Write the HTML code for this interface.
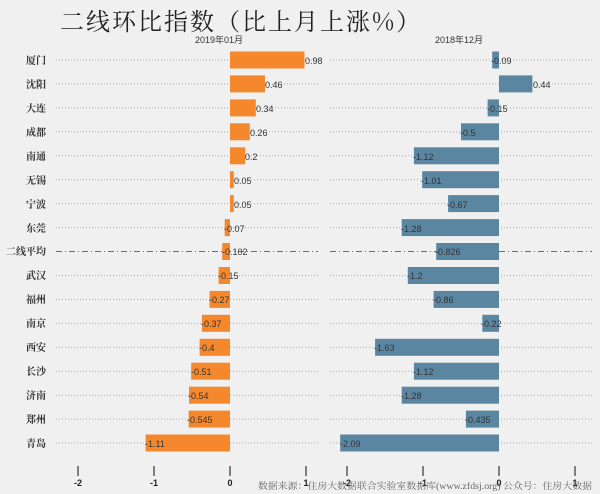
<!DOCTYPE html><html><head><meta charset="utf-8"><style>body{margin:0;background:#f0f0f0}svg{display:block}</style></head><body>
<svg width="600" height="494" xmlns="http://www.w3.org/2000/svg" font-family="Liberation Sans, sans-serif">
<rect width="600" height="494" fill="#f0f0f0"/>
<text x="60" y="30" font-family="Noto Serif CJK SC, serif" font-size="24" letter-spacing="2" fill="#222">二线环比指数（比上月上涨%）</text>
<text x="195" y="43" font-size="9" fill="#333" font-family="Liberation Sans, Noto Sans CJK SC, sans-serif">2019年01月</text>
<text x="435" y="43" font-size="9" fill="#333" font-family="Liberation Sans, Noto Sans CJK SC, sans-serif">2018年12月</text>
<g stroke="#aaa" stroke-width="1" stroke-dasharray="1,2">
<line x1="56" x2="318" y1="60" y2="60"/><line x1="330" x2="592" y1="60" y2="60"/>
<line x1="56" x2="318" y1="83.9" y2="83.9"/><line x1="330" x2="592" y1="83.9" y2="83.9"/>
<line x1="56" x2="318" y1="107.9" y2="107.9"/><line x1="330" x2="592" y1="107.9" y2="107.9"/>
<line x1="56" x2="318" y1="131.8" y2="131.8"/><line x1="330" x2="592" y1="131.8" y2="131.8"/>
<line x1="56" x2="318" y1="155.8" y2="155.8"/><line x1="330" x2="592" y1="155.8" y2="155.8"/>
<line x1="56" x2="318" y1="179.7" y2="179.7"/><line x1="330" x2="592" y1="179.7" y2="179.7"/>
<line x1="56" x2="318" y1="203.6" y2="203.6"/><line x1="330" x2="592" y1="203.6" y2="203.6"/>
<line x1="56" x2="318" y1="227.6" y2="227.6"/><line x1="330" x2="592" y1="227.6" y2="227.6"/>
<line x1="56" x2="318" y1="275.5" y2="275.5"/><line x1="330" x2="592" y1="275.5" y2="275.5"/>
<line x1="56" x2="318" y1="299.4" y2="299.4"/><line x1="330" x2="592" y1="299.4" y2="299.4"/>
<line x1="56" x2="318" y1="323.3" y2="323.3"/><line x1="330" x2="592" y1="323.3" y2="323.3"/>
<line x1="56" x2="318" y1="347.3" y2="347.3"/><line x1="330" x2="592" y1="347.3" y2="347.3"/>
<line x1="56" x2="318" y1="371.2" y2="371.2"/><line x1="330" x2="592" y1="371.2" y2="371.2"/>
<line x1="56" x2="318" y1="395.2" y2="395.2"/><line x1="330" x2="592" y1="395.2" y2="395.2"/>
<line x1="56" x2="318" y1="419.1" y2="419.1"/><line x1="330" x2="592" y1="419.1" y2="419.1"/>
<line x1="56" x2="318" y1="443" y2="443"/><line x1="330" x2="592" y1="443" y2="443"/>
</g>
<g stroke="#b05050" stroke-width="1" stroke-dasharray="6,3,1,3"><line x1="56" x2="318" y1="251.5" y2="251.5"/><line x1="330" x2="592" y1="251.5" y2="251.5"/></g>
<g fill="#f5882c">
<rect x="230" y="51.5" width="74.5" height="17"/>
<rect x="230" y="75.4" width="35" height="17"/>
<rect x="230" y="99.4" width="25.8" height="17"/>
<rect x="230" y="123.3" width="19.8" height="17"/>
<rect x="230" y="147.3" width="15.2" height="17"/>
<rect x="230" y="171.2" width="3.8" height="17"/>
<rect x="230" y="195.1" width="3.8" height="17"/>
<rect x="224.7" y="219.1" width="5.3" height="17"/>
<rect x="222.2" y="243" width="7.8" height="17"/>
<rect x="218.6" y="267" width="11.4" height="17"/>
<rect x="209.5" y="290.9" width="20.5" height="17"/>
<rect x="201.9" y="314.8" width="28.1" height="17"/>
<rect x="199.6" y="338.8" width="30.4" height="17"/>
<rect x="191.2" y="362.7" width="38.8" height="17"/>
<rect x="189" y="386.7" width="41" height="17"/>
<rect x="188.6" y="410.6" width="41.4" height="17"/>
<rect x="145.6" y="434.5" width="84.4" height="17"/>
</g>
<g fill="#5a86a2">
<rect x="492.2" y="51.5" width="6.8" height="17"/>
<rect x="499" y="75.4" width="33.4" height="17"/>
<rect x="487.6" y="99.4" width="11.4" height="17"/>
<rect x="461" y="123.3" width="38" height="17"/>
<rect x="413.9" y="147.3" width="85.1" height="17"/>
<rect x="422.2" y="171.2" width="76.8" height="17"/>
<rect x="448.1" y="195.1" width="50.9" height="17"/>
<rect x="401.7" y="219.1" width="97.3" height="17"/>
<rect x="436.2" y="243" width="62.8" height="17"/>
<rect x="407.8" y="267" width="91.2" height="17"/>
<rect x="433.6" y="290.9" width="65.4" height="17"/>
<rect x="482.3" y="314.8" width="16.7" height="17"/>
<rect x="375.1" y="338.8" width="123.9" height="17"/>
<rect x="413.9" y="362.7" width="85.1" height="17"/>
<rect x="401.7" y="386.7" width="97.3" height="17"/>
<rect x="465.9" y="410.6" width="33.1" height="17"/>
<rect x="340.2" y="434.5" width="158.8" height="17"/>
</g>
<g font-size="9" fill="#333">
<text x="305" y="64">0.98</text><text x="265" y="88">0.46</text><text x="256" y="112">0.34</text><text x="250" y="136">0.26</text><text x="245" y="160">0.2</text><text x="234" y="184">0.05</text><text x="234" y="208">0.05</text><text x="224" y="232">-0.07</text><text x="222" y="255">-0.102</text><text x="218" y="279">-0.15</text><text x="209" y="303">-0.27</text><text x="201" y="327">-0.37</text><text x="199" y="351">-0.4</text><text x="191" y="375">-0.51</text><text x="188" y="399">-0.54</text><text x="187" y="423">-0.545</text><text x="145" y="447">-1.11</text>
<text x="491" y="64">-0.09</text><text x="533" y="88">0.44</text><text x="487" y="112">-0.15</text><text x="460" y="136">-0.5</text><text x="413" y="160">-1.12</text><text x="421" y="184">-1.01</text><text x="447" y="208">-0.67</text><text x="401" y="232">-1.28</text><text x="435" y="255">-0.826</text><text x="407" y="279">-1.2</text><text x="433" y="303">-0.86</text><text x="481" y="327">-0.22</text><text x="374" y="351">-1.63</text><text x="413" y="375">-1.12</text><text x="401" y="399">-1.28</text><text x="465" y="423">-0.435</text><text x="340" y="447">-2.09</text>
</g>
<g font-size="10" fill="#333" font-family="Liberation Serif, Noto Serif CJK SC, serif" font-weight="bold" text-anchor="end">
<text x="46" y="64">厦门</text><text x="46" y="88">沈阳</text><text x="46" y="112">大连</text><text x="46" y="136">成都</text><text x="46" y="160">南通</text><text x="46" y="184">无锡</text><text x="46" y="208">宁波</text><text x="46" y="232">东莞</text><text x="46" y="255">二线平均</text><text x="46" y="279">武汉</text><text x="46" y="303">福州</text><text x="46" y="327">南京</text><text x="46" y="351">西安</text><text x="46" y="375">长沙</text><text x="46" y="399">济南</text><text x="46" y="423">郑州</text><text x="46" y="447">青岛</text>
</g>
<g stroke="#333" stroke-width="1.2">
<line x1="78" x2="78" y1="466" y2="476"/><line x1="154" x2="154" y1="466" y2="476"/><line x1="230" x2="230" y1="466" y2="476"/><line x1="306" x2="306" y1="466" y2="476"/>
<line x1="347" x2="347" y1="466" y2="476"/><line x1="423" x2="423" y1="466" y2="476"/><line x1="499" x2="499" y1="466" y2="476"/><line x1="575" x2="575" y1="466" y2="476"/>
</g>
<g font-size="9" font-weight="bold" fill="#222" text-anchor="middle">
<text x="78" y="486">-2</text><text x="154" y="486">-1</text><text x="230" y="486">0</text><text x="306" y="486">1</text>
<text x="347" y="486">-2</text><text x="423" y="486">-1</text><text x="499" y="486">0</text><text x="575" y="486">1</text>
</g>
<text x="592" y="489" text-anchor="end" font-size="9" textLength="334" lengthAdjust="spacingAndGlyphs" fill="#666" font-family="Liberation Serif, Noto Serif CJK SC, serif">数据来源：住房大数据联合实验室数据库(www.zfdsj.org) 公众号：住房大数据</text>
</svg>
</body></html>
